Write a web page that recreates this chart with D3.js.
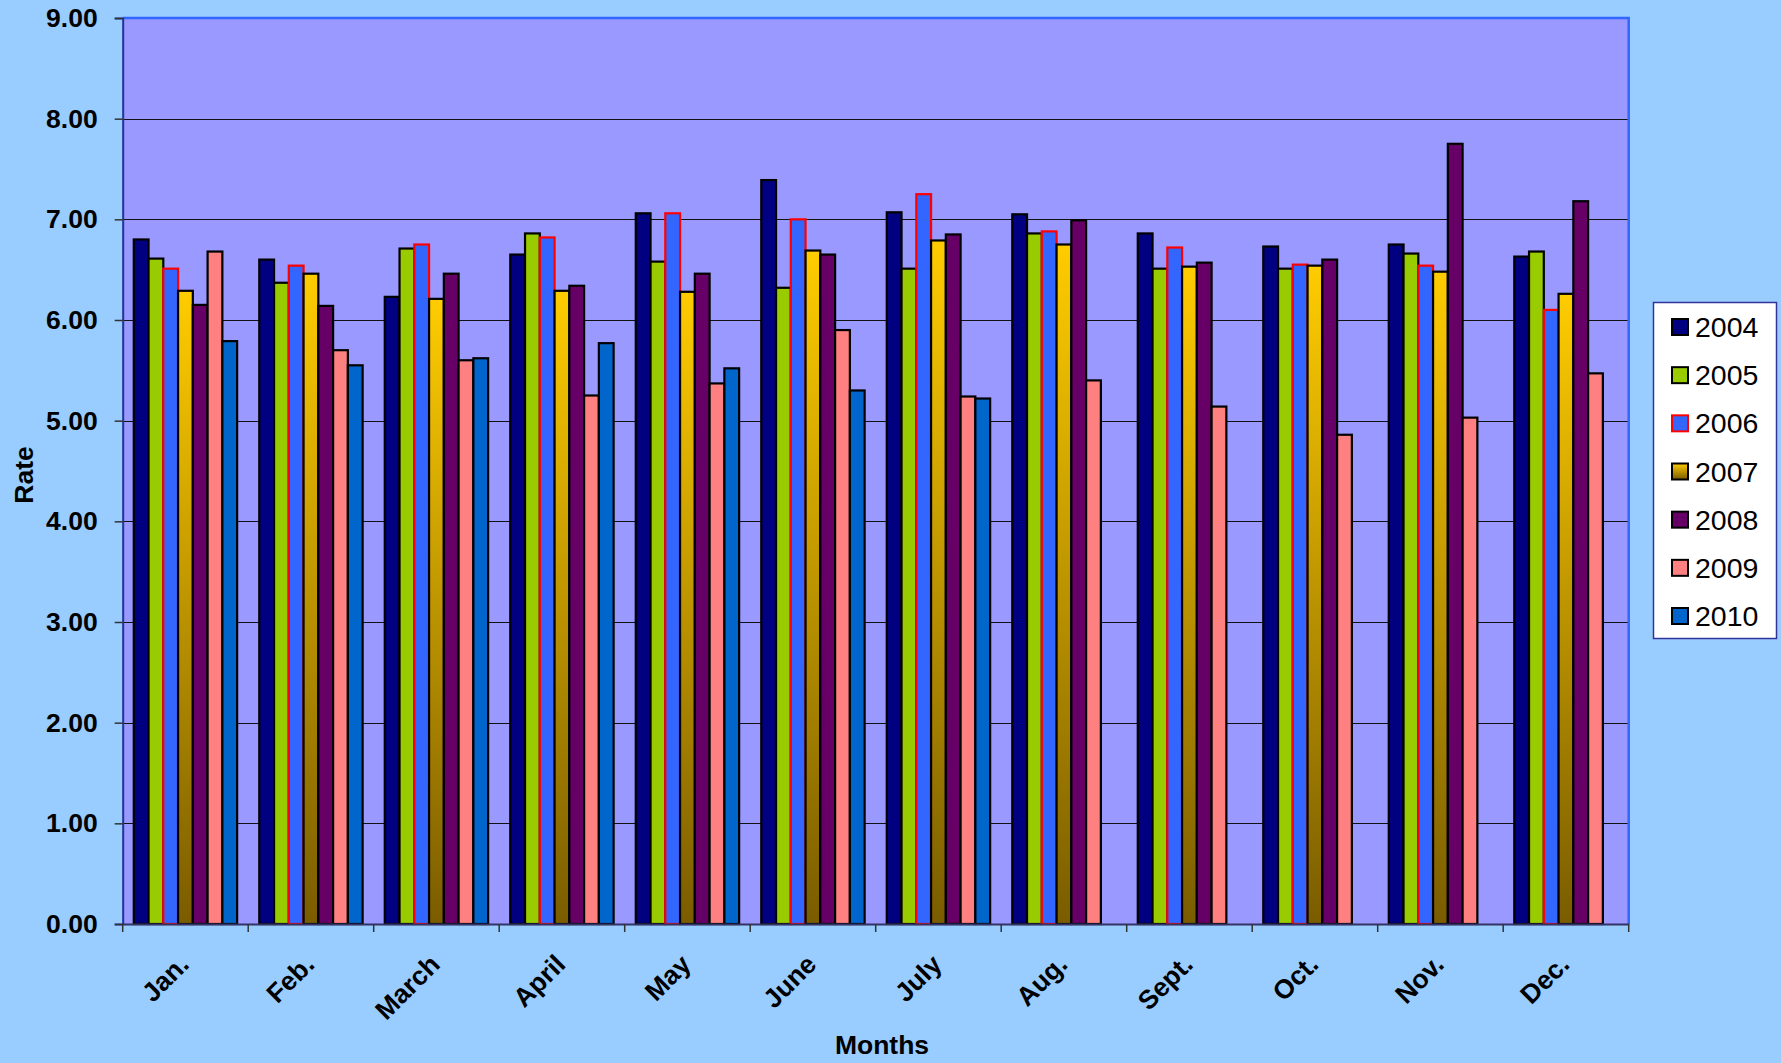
<!DOCTYPE html>
<html>
<head>
<meta charset="utf-8">
<script src="https://cdn.jsdelivr.net/npm/d3@7/dist/d3.min.js"></script>
<style>
  html, body { margin: 0; padding: 0; background: #99CCFF; }
  svg { display: block; font-family: "Liberation Sans", Arial, sans-serif; }
</style>
</head>
<body>
<svg id="chart" width="1781" height="1063"></svg>
<script>
const months = ["Jan.", "Feb.", "March", "April", "May", "June", "July", "Aug.", "Sept.", "Oct.", "Nov.", "Dec."];
const years = ["2004", "2005", "2006", "2007", "2008", "2009", "2010"];
const v2004 = [6.80, 6.60, 6.23, 6.65, 7.06, 7.39, 7.07, 7.05, 6.86, 6.73, 6.75, 6.63];
const v2005 = [6.61, 6.37, 6.71, 6.86, 6.58, 6.32, 6.51, 6.86, 6.51, 6.51, 6.66, 6.68];
const v2006 = [6.51, 6.54, 6.75, 6.82, 7.06, 7.00, 7.25, 6.88, 6.72, 6.55, 6.54, 6.10];
const v2007 = [6.29, 6.46, 6.21, 6.29, 6.28, 6.69, 6.79, 6.75, 6.53, 6.54, 6.48, 6.26];
const v2008 = [6.15, 6.14, 6.46, 6.34, 6.46, 6.65, 6.85, 6.99, 6.57, 6.60, 7.75, 7.18];
const v2009 = [6.68, 5.70, 5.60, 5.25, 5.37, 5.90, 5.24, 5.40, 5.14, 4.86, 5.03, 5.47];
const v2010 = [5.79, 5.55, 5.62, 5.77, 5.52, 5.30, 5.22, null, null, null, null, null];
const yTicks = [0, 1, 2, 3, 4, 5, 6, 7, 8, 9];
const yTitle = "Rate";
const xTitle = "Months";

const seriesValues = [v2004, v2005, v2006, v2007, v2008, v2009, v2010];
const fills = ["#000080", "#99CC00", "#3366FF", "url(#grad2007)", "#660066", "#FF8080", "#0066CC"];
const strokes = ["#000", "#000", "#FF0000", "#000", "#000", "#000", "#000"];

const svg = d3.select("#chart");
const L = 122.7, R = 1628.7, T = 18, B = 924;

const defs = svg.append("defs");
const g7 = defs.append("linearGradient").attr("id", "grad2007")
  .attr("x1", 0).attr("y1", 0).attr("x2", 0).attr("y2", 1);
g7.append("stop").attr("offset", "0%").attr("stop-color", "#FFCC00");
g7.append("stop").attr("offset", "100%").attr("stop-color", "#7A5C00");

const x0 = d3.scaleBand().domain(months).range([L, R]).paddingInner(0).paddingOuter(0);
const x1 = d3.scaleBand().domain(years).range([0, x0.bandwidth()]).paddingInner(0).paddingOuter(0.75);
const y = d3.scaleLinear().domain([0, 9]).range([B, T]);

// plot area
svg.append("rect").attr("x", L).attr("y", T).attr("width", R - L).attr("height", B - T)
  .attr("fill", "#9999FF");

// gridlines
svg.append("g").selectAll("line").data(yTicks.filter(t => t > 0 && t < 9)).join("line")
  .attr("x1", L).attr("x2", R)
  .attr("y1", d => Math.round(y(d)) + 0.5).attr("y2", d => Math.round(y(d)) + 0.5)
  .attr("stroke", "#111").attr("stroke-width", 1.2);

// border top/right
svg.append("path").attr("d", `M${L},${T}H${R}V${B}`).attr("fill", "none")
  .attr("stroke", "#3366FF").attr("stroke-width", 2.5);

// bars
const data = [];
months.forEach((m, i) => {
  years.forEach((yr, j) => {
    const v = seriesValues[j][i];
    if (v != null) data.push({ m, yr, j, v });
  });
});
svg.append("g").selectAll("rect").data(data).join("rect")
  .attr("x", d => x0(d.m) + x1(d.yr))
  .attr("y", d => y(d.v))
  .attr("width", x1.bandwidth())
  .attr("height", d => B - y(d.v))
  .attr("fill", d => fills[d.j])
  .attr("stroke", d => strokes[d.j])
  .attr("stroke-width", 2.2);

// y axis
const yAxis = svg.append("g").attr("transform", `translate(${L},0)`)
  .call(d3.axisLeft(y).tickValues(yTicks).tickFormat(d3.format(".2f")).tickSize(8).tickPadding(17));
yAxis.select(".domain").attr("stroke", "#223399").attr("stroke-width", 2);
yAxis.selectAll(".tick line").attr("stroke", "#333").attr("stroke-width", 1.5);
yAxis.selectAll(".tick text").attr("font-size", 26.5).attr("font-weight", "bold")
  .attr("fill", "#000").attr("font-family", "'Liberation Sans', Arial, sans-serif");

// x axis
const xAxis = svg.append("g").attr("transform", `translate(0,${B})`)
  .call(d3.axisBottom(x0).tickSize(0).tickFormat(""));
xAxis.select(".domain").attr("stroke", "#333366").attr("stroke-width", 2);
xAxis.selectAll(".tick").remove();
// boundary ticks
const bounds = months.map(m => x0(m)).concat([R]);
svg.append("g").selectAll("line").data(bounds).join("line")
  .attr("x1", d => d).attr("x2", d => d).attr("y1", B).attr("y2", B + 8)
  .attr("stroke", "#333").attr("stroke-width", 1.5);
// labels
svg.append("g").selectAll("text").data(months).join("text")
  .attr("transform", d => `translate(${x0(d) + x0.bandwidth() / 2 + 5},966) rotate(-45)`)
  .attr("text-anchor", "end")
  .attr("font-size", 26.5).attr("font-weight", "bold").attr("fill", "#000")
  .text(d => d);

// titles
svg.append("text").attr("x", 882).attr("y", 1054).attr("text-anchor", "middle")
  .attr("font-size", 26.5).attr("font-weight", "bold").text(xTitle);
svg.append("text").attr("transform", "translate(33,475) rotate(-90)").attr("text-anchor", "middle")
  .attr("font-size", 26.5).attr("font-weight", "bold").text(yTitle);

// legend
const lg = svg.append("g");
lg.append("rect").attr("x", 1653.5).attr("y", 302.5).attr("width", 123).attr("height", 336)
  .attr("fill", "#fff").attr("stroke", "#333399").attr("stroke-width", 1.5);
const ly = d3.scalePoint().domain(years).range([327, 616]);
const items = lg.selectAll("g.item").data(years).join("g").attr("class", "item")
  .attr("transform", d => `translate(0,${ly(d)})`);
items.append("rect").attr("x", 1672).attr("y", -8).attr("width", 16).attr("height", 16)
  .attr("fill", (d, i) => fills[i]).attr("stroke", (d, i) => strokes[i]).attr("stroke-width", 2);
items.append("text").attr("x", 1695).attr("y", 10).attr("font-size", 28.5).attr("fill", "#000")
  .text(d => d);
</script>
</body>
</html>
